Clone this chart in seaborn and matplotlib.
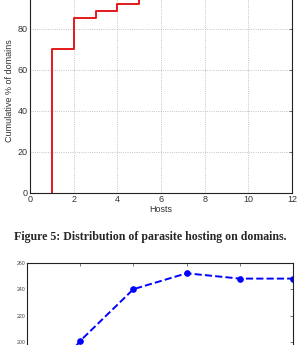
import numpy as np
import pandas as pd
import matplotlib
matplotlib.use('Agg')
import matplotlib.pyplot as plt
import seaborn as sns

# dati figura 5 (CDF host per dominio)
hosts = [1, 1, 2, 3, 4, 5, 7, 12]
cum_pct = [0, 70, 85, 88.5, 92, 97, 100, 100]

# dati grafico sotto (parzialmente visibile)
x_bottom = [0, 1, 2, 3, 4, 5]
y_bottom = [150, 201, 240, 252, 248, 248]

sns.set_style('white')
plt.rcParams['font.family'] = ['Liberation Sans', 'DejaVu Sans']

fig = plt.figure(figsize=(2.97, 3.45), dpi=100)

# grafico in alto
ax1 = fig.add_axes([30/297, 152/345, 262/297, 205.6/345])
df1 = pd.DataFrame({'Hosts': hosts, 'Cum': cum_pct})
sns.lineplot(data=df1, x='Hosts', y='Cum', ax=ax1, color='#e3191c', linewidth=1.4,
             drawstyle='steps-post', sort=False, estimator=None)
ax1.set_xlim(0, 12)
ax1.set_ylim(0, 100)
ax1.set_xticks(range(0, 13, 2))
ax1.set_yticks(range(0, 101, 20))
ax1.set_yticklabels(['0', '20', '40', '60', '80', ''])
ax1.grid(True, linestyle=':', color='#b0b0b0', linewidth=0.6)
ax1.tick_params(direction='in', labelsize=6.5, length=2, width=0.5, pad=1.5,
                top=True, right=True, colors='#333333')
ax1.set_xlabel('Hosts', fontsize=6.5, labelpad=1, color='#333333')
ax1.set_ylabel('Cumulative % of domains', fontsize=6.5, labelpad=3, color='#333333')
for s in ax1.spines.values():
    s.set_visible(True)
    s.set_color('#222222')
    s.set_linewidth(0.8)

fig.text(150/297, (345-237)/345, 'Figure 5: Distribution of parasite hosting on domains.',
         ha='center', va='center', fontsize=8.6, fontweight='bold', family='Liberation Serif')

# grafico in basso (tagliato)
ax2 = fig.add_axes([27/297, -23.7/345, 266/297, 106/345])
df2 = pd.DataFrame({'x': x_bottom, 'y': y_bottom})
sns.lineplot(data=df2, x='x', y='y', ax=ax2, color='#0000ff', linewidth=1.4,
             linestyle='--', marker='o', markersize=4, markeredgecolor='#0000ff')
ax2.set_xlim(0, 5)
ax2.set_ylim(180, 260)
ax2.set_xticks(range(0, 6))
ax2.set_yticks(range(180, 261, 20))
ax2.set_xticklabels([])
ax2.set_xlabel('')
ax2.set_ylabel('')
ax2.tick_params(direction='in', labelsize=3.8, length=2, width=0.5, pad=1,
                top=True, right=True, colors='#444444')
for s in ax2.spines.values():
    s.set_visible(True)
    s.set_color('#222222')
    s.set_linewidth(0.8)

fig.savefig('out.png', dpi=100)
